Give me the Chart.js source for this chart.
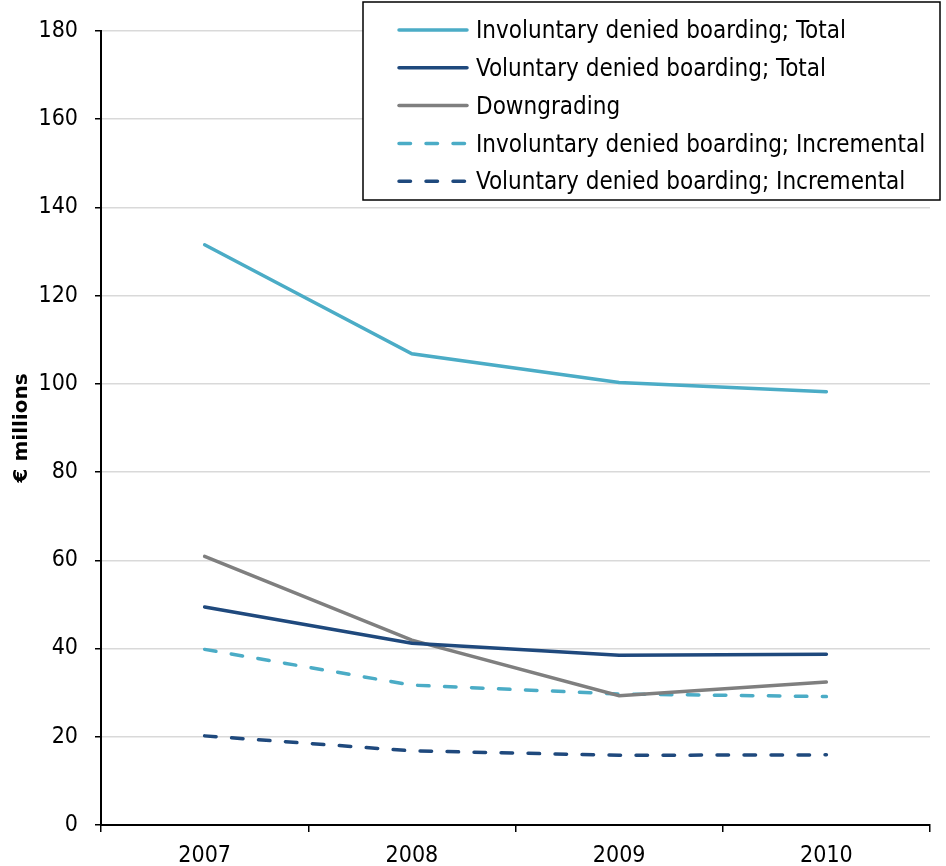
<!DOCTYPE html>
<html>
<head>
<meta charset="utf-8">
<script src="https://cdn.jsdelivr.net/npm/chart.js@4/dist/chart.umd.min.js"></script>
<style>
  body { margin: 0; background: #fff; }
  #wrap { width: 946px; height: 866px; }
</style>
</head>
<body>
<div id="wrap"><canvas id="myChart" width="946" height="866"></canvas></div>
<script>
// years on the x axis
const years = ['2007', '2008', '2009', '2010'];

// € millions per year
const involuntaryTotal = [131.5, 106.8, 100.3, 98.2];
const voluntaryTotal = [49.4, 41.2, 38.5, 38.7];
const downgrading = [60.9, 41.9, 29.3, 32.4];
const involuntaryIncremental = [39.8, 31.7, 29.7, 29.1];
const voluntaryIncremental = [20.2, 16.8, 15.8, 15.9];

const yTicks = [0, 20, 40, 60, 80, 100, 120, 140, 160, 180];

const lightBlue = '#4bacc6';
const darkBlue = '#1f497d';
const grey = '#7f7f7f';
const dash = [11.5, 15.5];

const tickFont = { family: "'DejaVu Sans Condensed', 'DejaVu Sans'", size: 23 };
const legendFont = "24px 'DejaVu Sans Condensed', 'DejaVu Sans'";

// legend drawn as a boxed panel inside the plot, top right
const boxLegend = {
  id: 'boxLegend',
  afterDraw(chart) {
    const ctx = chart.ctx;
    const x = 363, y = 2, w = 577, h = 198;
    ctx.save();
    ctx.fillStyle = '#fff';
    ctx.fillRect(x, y, w, h);
    ctx.strokeStyle = '#000';
    ctx.lineWidth = 1.5;
    ctx.strokeRect(x, y, w, h);
    ctx.font = legendFont;
    ctx.textBaseline = 'middle';
    chart.data.datasets.forEach(function(ds, i) {
      const rowY = 30 + i * 37.8;
      ctx.beginPath();
      ctx.strokeStyle = ds.borderColor;
      ctx.lineWidth = 3.5;
      ctx.lineCap = 'round';
      ctx.setLineDash(ds.borderDash || []);
      ctx.moveTo(399, rowY);
      ctx.lineTo(467, rowY);
      ctx.stroke();
      ctx.setLineDash([]);
      ctx.fillStyle = '#000';
      ctx.fillText(ds.label, 476, rowY + 2);
    });
    ctx.restore();
  }
};

const ctx = document.getElementById('myChart').getContext('2d');

// eslint-disable-next-line no-undef
const chart = new Chart(ctx, {
  type: 'line',
  data: {
    labels: years,
    datasets: [{
      label: 'Involuntary denied boarding; Total',
      data: involuntaryTotal,
      borderColor: lightBlue,
    },
    {
      label: 'Voluntary denied boarding; Total',
      data: voluntaryTotal,
      borderColor: darkBlue,
    },
    {
      label: 'Downgrading',
      data: downgrading,
      borderColor: grey,
    },
    {
      label: 'Involuntary denied boarding; Incremental',
      data: involuntaryIncremental,
      borderColor: lightBlue,
      borderDash: dash,
    },
    {
      label: 'Voluntary denied boarding; Incremental',
      data: voluntaryIncremental,
      borderColor: darkBlue,
      borderDash: dash,
    }]
  },
  options: {
    responsive: false,
    animation: false,
    layout: { padding: { top: 30, right: 16, left: 0, bottom: 0 } },
    elements: {
      point: { radius: 0 },
      line: { borderWidth: 3.5, tension: 0, borderCapStyle: 'round' }
    },
    plugins: {
      legend: { display: false },
      tooltip: { enabled: false }
    },
    scales: {
      x: {
        offset: true,
        grid: {
          offset: true,
          drawOnChartArea: false,
          tickLength: 7,
          tickColor: '#000',
          lineWidth: 1.5
        },
        border: { color: '#000', width: 2 },
        ticks: { color: '#000', font: tickFont, padding: 10, maxRotation: 0 },
        afterFit: function(scale) { scale.height = 41; }
      },
      y: {
        min: 0,
        max: 180,
        afterBuildTicks: function(scale) {
          scale.ticks = yTicks.map(function(v) { return { value: v }; });
        },
        grid: {
          color: '#d9d9d9',
          lineWidth: 1.5,
          tickLength: 6,
          tickColor: '#000'
        },
        border: { color: '#000', width: 2 },
        ticks: { color: '#000', font: tickFont, padding: 17 },
        title: {
          display: true,
          text: '€ millions',
          color: '#000',
          font: { family: "'DejaVu Sans'", size: 20, weight: 'bold' },
          padding: { top: 10, bottom: 4 }
        },
        afterFit: function(scale) { scale.width = 101; }
      }
    }
  },
  plugins: [boxLegend]
});
</script>
</body>
</html>
